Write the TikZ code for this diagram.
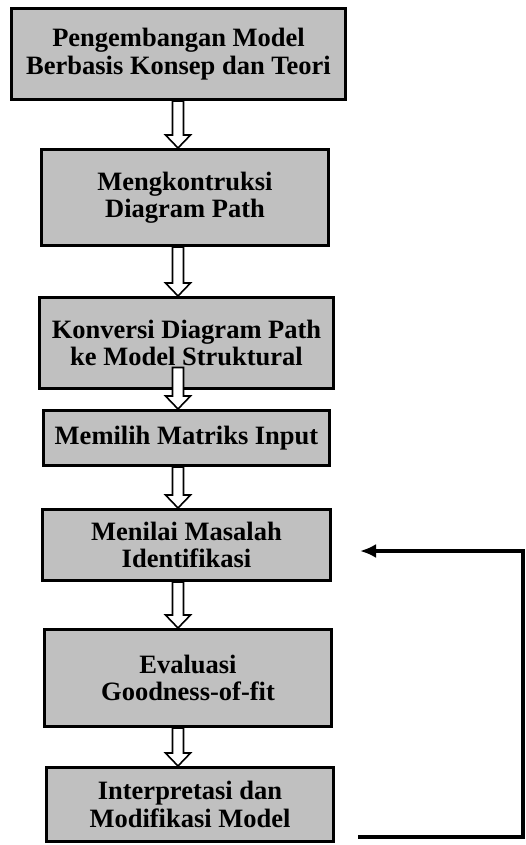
\documentclass[tikz,border=0pt]{standalone}
\usepackage{fontspec}
\setmainfont{Liberation Serif}
\usetikzlibrary{arrows.meta,calc}
\definecolor{abu}{HTML}{C0C0C0}

\begin{document}
\begin{tikzpicture}[x=1pt, y=-1pt,
    kotak/.style={draw, line width=3pt, fill=abu, inner sep=0pt, align=center,
      font=\fontsize{26.5pt}{27.5pt}\selectfont\bfseries},
    panah/.style={draw, line width=1.6pt, fill=white, line join=miter,
      to path={let \p1=(\tikztostart), \p2=(\tikztotarget) in
        (\x1-5.5pt,\y1) -- (\x1-5.5pt,\y2+13pt) -- (\x1-12.5pt,\y2+13pt) -- (\x1,\y2)
        -- (\x1+12.5pt,\y2+13pt) -- (\x1+5.5pt,\y2+13pt) -- (\x1+5.5pt,\y1) -- cycle}},
    balik/.style={line width=3.2pt, -{Latex[length=16pt,width=14pt]}}]
    \useasboundingbox (0,0) rectangle (526,845);
    %\draw [help lines] (0,0) grid[step=50] (526,845);
    \node[kotak, minimum width=334pt, minimum height=91pt] (b1) at (178.5,54) {Pengembangan Model\\Berbasis Konsep dan Teori};
    \node[kotak, minimum width=287pt, minimum height=96pt] (b2) at (185,197.5) {Mengkontruksi\\Diagram Path};
    \node[kotak, minimum width=294pt, minimum height=91pt] (b3) at (186.5,343) {Konversi Diagram Path\\ke Model Struktural};
    \node[kotak, minimum width=286pt, minimum height=55pt] (b4) at (186.5,438) {Memilih Matriks Input};
    \node[kotak, minimum width=288pt, minimum height=71pt] (b5) at (186.5,545) {Menilai Masalah\\Identifikasi};
    \node[kotak, minimum width=287pt, minimum height=97pt] (b6) at (188,678) {Evaluasi\\Goodness-of-fit};
    \node[kotak, minimum width=287pt, minimum height=74pt] (b7) at (190,804.5) {Interpretasi dan\\Modifikasi Model};
    % panah tebal di antara kotak
    \coordinate (sumbu) at (178,0);
    \coordinate (m3) at ([yshift=22.5pt]b3.south);
    \foreach \a/\b in {b1.south/b2.north, b2.south/b3.north, m3/b4.north,
                       b4.south/b5.north, b5.south/b6.north, b6.south/b7.north}
      \draw[panah] (\a -| sumbu) to (\b -| sumbu);
    % umpan balik
    \coordinate (awal) at ([xshift=23pt,yshift=-32.5pt]b7.east);
    \coordinate (akhir) at ([xshift=28pt,yshift=-6pt]b5.east);
    \coordinate (kanan) at (523,0);
    \draw[balik] (awal) -- (awal -| kanan) -- (akhir -| kanan) -- (akhir);
\end{tikzpicture}
\end{document}
